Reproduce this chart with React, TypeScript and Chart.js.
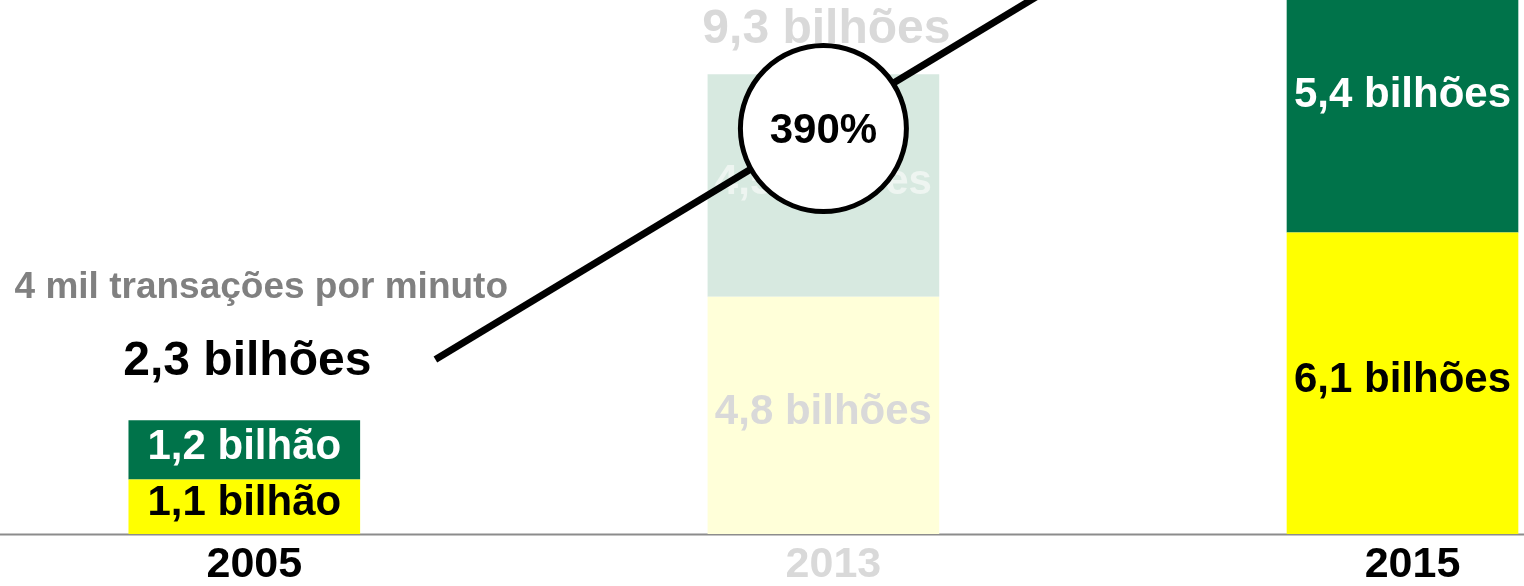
import { useEffect, useRef } from 'react';
import { Chart, registerables } from 'chart.js';

Chart.register(...registerables);

// ---- data ----
const categories = ['2005', '2013', '2015'];
const lowerValues = [1.1, 4.8, 6.1];
const upperValues = [1.2, 4.5, 5.4];
const highlighted = [true, false, true];
const notes = ['4 mil transações por minuto', '', ''];
const trendX = [0.33, 1.5];
const trendY = [3.53, 11.8];
const growthLabel = '390%';
const growthX = [1];
const growthY = [8.2];

// ---- styles ----
const GREEN = '#00734A';
const YELLOW = '#FFFF00';
const FADED_GREEN = '#D7E9E0';
const FADED_YELLOW = '#FFFFD9';
const FADED_TEXT = '#D9D9D9';
const FADED_WHITE = '#EEF5F1';
const FAMILY = '"Liberation Sans", Arial, Helvetica, sans-serif';
const totalGap = [59, 44, 52];

const fmt = (v: number) => v.toFixed(1).replace('.', ',') + (v < 2 ? ' bilhão' : ' bilhões');

export default function App() {
  const ref = useRef<HTMLCanvasElement>(null);

  useEffect(() => {
    const canvas = ref.current!;

    const text = (ctx: CanvasRenderingContext2D, s: string, x: number, y: number, size: number, color: string) => {
      ctx.font = `bold ${size}px ${FAMILY}`;
      ctx.fillStyle = color;
      ctx.textAlign = 'center';
      ctx.textBaseline = 'middle';
      ctx.fillText(s, x, y);
    };

    const labelPlugin = {
      id: 'labels',
      beforeDatasetsDraw(chart: any) {
        const ctx = chart.ctx as CanvasRenderingContext2D;
        const y0 = chart.scales.y.getPixelForValue(0);
        ctx.save();
        ctx.strokeStyle = '#8C8C8C';
        ctx.lineWidth = 2;
        ctx.beginPath();
        ctx.moveTo(0, y0 + 0.5);
        ctx.lineTo(chart.width, y0 + 0.5);
        ctx.stroke();
        ctx.restore();
      },
      beforeDatasetDraw(chart: any, args: any) {
        if (args.index !== 2) return;
        const ctx = chart.ctx as CanvasRenderingContext2D;
        const lowerMeta = chart.getDatasetMeta(0);
        const upperMeta = chart.getDatasetMeta(1);
        ctx.save();
        categories.forEach((_, i) => {
          const lo = lowerMeta.data[i] as any;
          const up = upperMeta.data[i] as any;
          const on = highlighted[i];
          text(ctx, fmt(lowerValues[i]), lo.x, (lo.y + lo.base) / 2 - 3, 42, on ? '#000000' : FADED_TEXT);
          text(ctx, fmt(upperValues[i]), up.x, (up.y + up.base) / 2 - 3, 42, on ? '#FFFFFF' : FADED_WHITE);
          const ty = up.y - totalGap[i];
          text(ctx, fmt(lowerValues[i] + upperValues[i]), up.x + 3, ty, 48, on ? '#000000' : FADED_TEXT);
          if (notes[i]) text(ctx, notes[i], up.x + 17, ty - 73, 37, '#808080');
        });
        ctx.restore();
      },
      afterDatasetsDraw(chart: any) {
        const ctx = chart.ctx as CanvasRenderingContext2D;
        const pt = chart.getDatasetMeta(3).data[0] as any;
        ctx.save();
        text(ctx, growthLabel, pt.x, pt.y + 3, 42, '#000000');
        ctx.restore();
      },
    };

    const barCommon = {
      borderWidth: 0,
      grouped: false,
      barPercentage: 0.4,
      categoryPercentage: 1,
      clip: false as any,
      xAxisID: 'x',
      yAxisID: 'y',
    };

    const chart = new Chart(canvas, {
      type: 'bar',
      data: {
        labels: categories,
        datasets: [
          {
            ...barCommon,
            label: 'lower',
            data: lowerValues,
            backgroundColor: categories.map((_, i) => (highlighted[i] ? YELLOW : FADED_YELLOW)),
            order: 2,
          },
          {
            ...barCommon,
            label: 'upper',
            data: upperValues,
            backgroundColor: categories.map((_, i) => (highlighted[i] ? GREEN : FADED_GREEN)),
            order: 3,
          },
          {
            type: 'line',
            label: 'trend',
            data: trendX.map((x, i) => ({ x, y: trendY[i] })),
            borderColor: '#000000',
            borderWidth: 7,
            borderCapStyle: 'butt',
            pointRadius: 0,
            fill: false,
            clip: false as any,
            order: 1,
            xAxisID: 'x2',
            yAxisID: 'y2',
          } as any,
          {
            type: 'scatter',
            label: 'growth',
            data: growthX.map((x, i) => ({ x, y: growthY[i] })),
            pointRadius: 83,
            pointHoverRadius: 83,
            pointBorderWidth: 5,
            pointBackgroundColor: '#FFFFFF',
            pointBorderColor: '#000000',
            clip: false as any,
            order: 0,
            xAxisID: 'x2',
            yAxisID: 'y2',
          } as any,
        ],
      },
      options: {
        animation: false,
        responsive: false,
        events: [],
        layout: { autoPadding: false, padding: { left: 244.3, right: 121.5, top: 0, bottom: -10 } },
        plugins: { legend: { display: false }, tooltip: { enabled: false } },
        scales: {
          x: {
            type: 'category',
            offset: false,
            stacked: true,
            grid: { display: false, drawTicks: false, offset: false },
            border: { display: false },
            ticks: {
              font: { family: FAMILY, size: 43, weight: 'bold', lineHeight: 1 },
              color: (c: any) => (highlighted[c.index] ? '#000000' : FADED_TEXT),
              padding: 9.5,
              labelOffset: 10,
              maxRotation: 0,
              autoSkip: false,
            },
          },
          y: { stacked: true, display: false, min: 0, max: 10.8 },
          x2: { type: 'linear', display: false, offset: false, grid: { offset: false }, bounds: 'data', min: 0, max: 2 },
          y2: { type: 'linear', display: false, offset: false, bounds: 'data', min: 0, max: 10.8 },
        },
      } as any,
      plugins: [labelPlugin],
    });

    return () => chart.destroy();
  }, []);

  return (
    <div style={{ position: 'absolute', left: 0, top: 0, width: 1524, height: 586, overflow: 'hidden', background: '#FFFFFF' }}>
      <canvas ref={ref} width={1524} height={586} style={{ width: 1524, height: 586, display: 'block' }} />
    </div>
  );
}
